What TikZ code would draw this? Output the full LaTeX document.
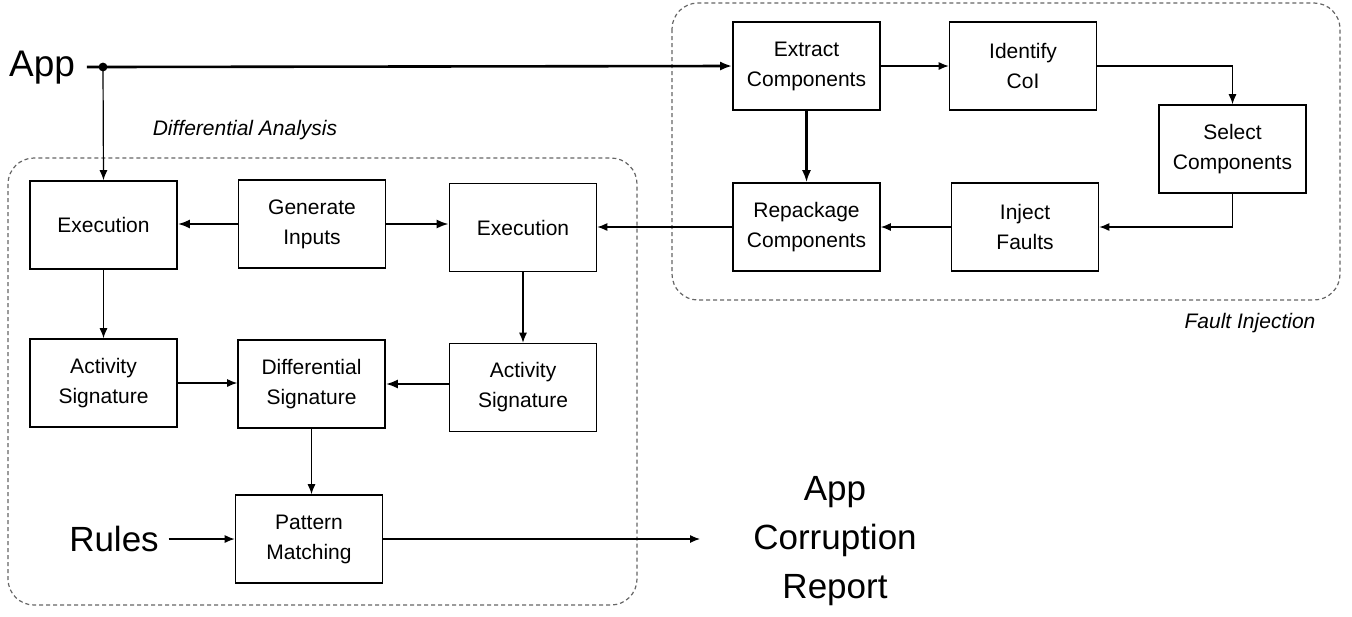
\documentclass[tikz,border=0pt]{standalone}
\usepackage{fontspec}
\setmainfont{Liberation Sans}
\usetikzlibrary{arrows.meta}
\begin{document}
\begin{tikzpicture}[x=0.5pt,y=-0.5pt,
  box/.style={draw,line width=0.8pt,minimum width=73.5pt,minimum height=44pt,inner sep=0pt,align=center,font=\fontsize{10.5}{15}\selectfont},
  big/.style={font=\fontsize{17.5}{24.5}\selectfont,align=center,inner sep=1pt},
  lbl/.style={font=\fontsize{10.5}{13}\selectfont\itshape},
  group/.style={draw=black!60,dash pattern=on 2pt off 1.5pt,line width=0.6pt,rounded corners=13pt},
  thin/.style={line width=0.6pt,-{Latex[length=5pt,width=4pt]}},
  thk/.style={line width=1.1pt,-{Latex[length=6pt,width=4.5pt]}}]
\useasboundingbox (0,0) rectangle (1352,616);
% groups
\draw[group] (672,3) rectangle (1340,300);
\draw[group] (8,158) rectangle (637,605);
\node[lbl] (fil) at (1250,323) {Fault Injection};
\node[lbl] (dal) at (245,130) {Differential Analysis};
% boxes
\node[box] (ext) at (806.5,66) {Extract\\Components};
\node[box] (idc) at (1023,66) {Identify\\CoI};
\node[box] (sel) at (1232.5,149) {Select\\Components};
\node[box] (rep) at (806.5,227) {Repackage\\Components};
\node[box] (inj) at (1025,227) {Inject\\Faults};
\node[box] (exL) at (103.5,225) {Execution};
\node[box] (gen) at (312,224) {Generate\\Inputs};
\node[box] (exR) at (523,227.5) {Execution};
\node[box] (actL) at (103.5,383) {Activity\\Signature};
\node[box] (dif) at (311.5,384) {Differential\\Signature};
\node[box] (actR) at (523,387.5) {Activity\\Signature};
\node[box] (pat) at (309,539) {Pattern\\Matching};
% terminals
\node[big,font=\fontsize{18.5}{24.5}\selectfont,outer xsep=5pt] (app) at (42,68) {App};
\node[big,outer xsep=4pt] (rul) at (114,539) {Rules};
\node[big] (rep2) at (835,541) {App\\Corruption\\Report};
\coordinate (j) at (103,67);
\coordinate (out) at (700,539);
% connectors
\draw[line width=1.3pt,-{Latex[length=6pt,width=4.5pt]}] (app.east |- j) -- (j) -- (ext.west);
\fill (j) circle (2.2pt);
\draw[thin] (j) -- (exL.north);
\draw[thin] (ext.east) -- (ext.east -| idc.west);
\draw[thin] (idc.east) -| (sel.north);
\draw[thin] (sel.south) |- (inj.east);
\draw[thin] (inj.west) -- (inj.west -| rep.east);
\draw[thk] (ext.south) -- (rep.north);
\draw[thin] (rep.west) -- (rep.west -| exR.east);
\draw[thk] (gen.west) -- (gen.west -| exL.east);
\draw[thk] (gen.east) -- (gen.east -| exR.west);
\draw[thin] (exL.south) -- (actL.north);
\draw[thin] (exR.south) -- (actR.north);
\draw[thin] (actL.east) -- (actL.east -| dif.west);
\draw[thk] (actR.west |- dif.east) -- (dif.east);
\draw[thin] (dif.south) -- (dif.south |- pat.north);
\draw[thin] (rul.east) -- (pat.west);
\draw[thin] (pat.east) -- (out);
\end{tikzpicture}
\end{document}
